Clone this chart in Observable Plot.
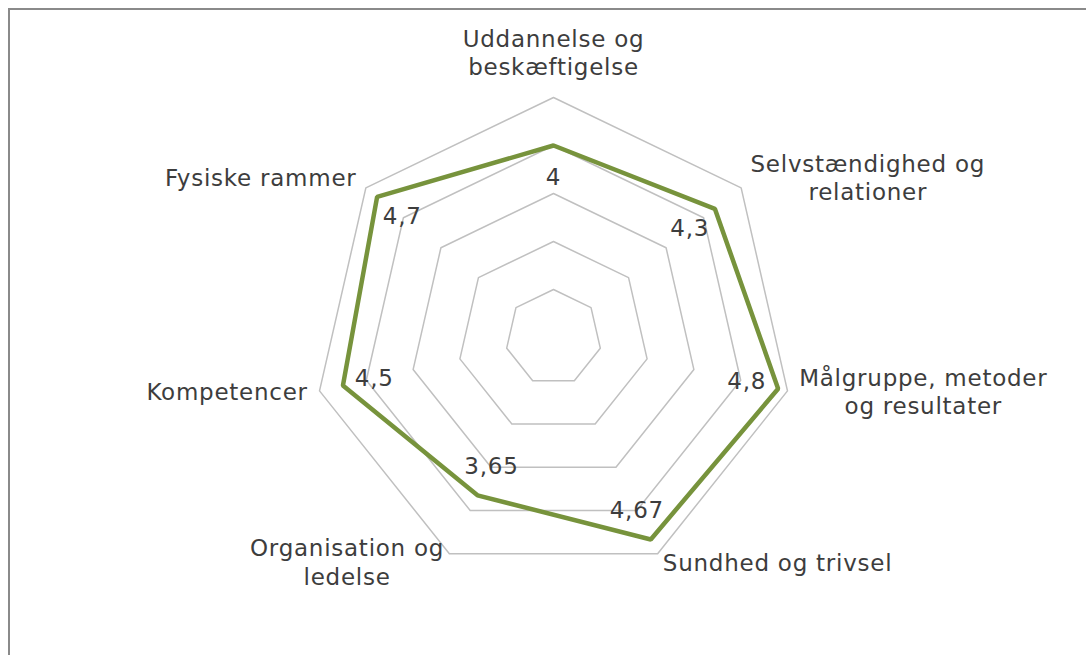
<!DOCTYPE html>
<html><head><meta charset="utf-8">
<script src="https://cdn.jsdelivr.net/npm/d3@7"></script>
<script src="https://cdn.jsdelivr.net/npm/@observablehq/plot@0.6"></script>
<style>
html,body{margin:0;padding:0;background:#fff;overflow:hidden;width:1086px;height:655px}
#frame{position:absolute;left:8px;top:8px;width:1300px;height:900px;border:2px solid #8a8a8a;box-sizing:border-box}
#chart{position:absolute;left:0;top:0}
</style></head><body>
<div id="frame"></div>
<div id="chart"></div>
<script>
const categories = ["Uddannelse og\nbeskæftigelse", "Selvstændighed og\nrelationer", "Målgruppe, metoder\nog resultater", "Sundhed og trivsel", "Organisation og\nledelse", "Kompetencer", "Fysiske rammer"];
const values = [4, 4.3, 4.8, 4.67, 3.65, 4.5, 4.7];
const valueLabels = ["4", "4,3", "4,8", "4,67", "3,65", "4,5", "4,7"];
const gridLevels = [1, 2, 3, 4, 5];

const W = 1086, H = 655, cx = 553, cy = 337, unit = 48;
const fontFamily = "'DejaVu Sans', Verdana, sans-serif";
const fontSize = 23, lineH = 1.22, letterSp = 0.75;
const textColor = "#3d3d3d";
const n = categories.length;
const ang = i => i * 2 * Math.PI / n;

const ctx = document.createElement("canvas").getContext("2d");
ctx.font = `${fontSize}px 'DejaVu Sans'`;
const measure = s => ctx.measureText(s).width + s.length * letterSp;

const grid = gridLevels.flatMap(l => categories.map((c, i) => ({level: l, x: l * Math.sin(ang(i)), y: l * Math.cos(ang(i))})));
const series = values.map((v, i) => ({x: v * Math.sin(ang(i)), y: v * Math.cos(ang(i))}));
const vLabels = values.map((v, i) => ({x: (v - 0.67) * Math.sin(ang(i)), y: (v - 0.67) * Math.cos(ang(i)), text: valueLabels[i]}));
const cLabels = categories.map((c, i) => {
  const s = Math.sin(ang(i)), co = Math.cos(ang(i)), r = 5.25;
  const lines = c.split("\n");
  const w = Math.max(...lines.map(measure));
  const h = lines.length * lineH * fontSize;
  let dx = 0, dy = 3;
  if (s > 0.3) dx = w / 2; else if (s < -0.3) dx = -w / 2;
  if (co > 0.9) dy = h / 2 + 5;
  return {x: r * s + dx / unit, y: r * co + dy / unit, text: c};
});

const chart = Plot.plot({
  width: W, height: H, margin: 0,
  style: {background: "transparent", fontFamily, letterSpacing: letterSp + "px"},
  x: {domain: [-cx / unit, (W - cx) / unit], axis: null},
  y: {domain: [-(H - cy) / unit, cy / unit], axis: null},
  marks: [
    Plot.line(grid, {x: "x", y: "y", z: "level", curve: "linear-closed", stroke: "#c0c0c0", strokeWidth: 1.5}),
    Plot.line(series, {x: "x", y: "y", curve: "linear-closed", stroke: "#77933C", strokeWidth: 4.5, strokeLinejoin: "miter"}),
    Plot.text(vLabels, {x: "x", y: "y", text: "text", fontSize, fill: textColor, textAnchor: "middle", lineAnchor: "middle"}),
    Plot.text(cLabels, {x: "x", y: "y", text: "text", fontSize, fill: textColor, textAnchor: "middle", lineAnchor: "middle", lineHeight: lineH})
  ]
});
document.getElementById("chart").appendChild(chart);
</script>
</body></html>
